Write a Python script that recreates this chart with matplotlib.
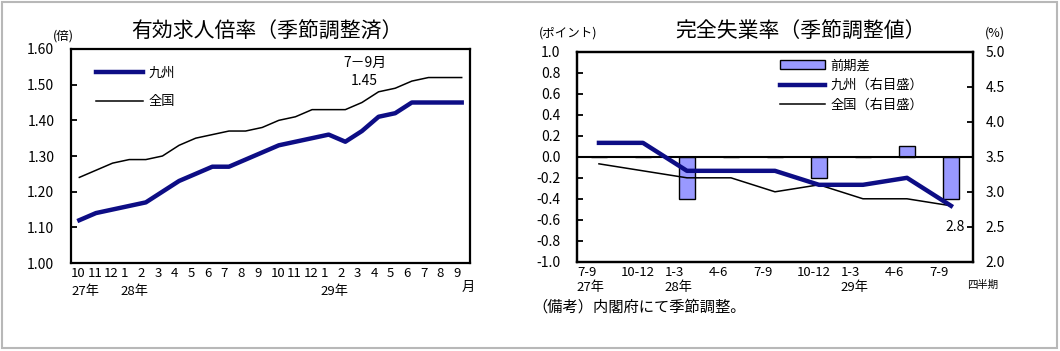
import numpy as np
import matplotlib
matplotlib.use("Agg")
import matplotlib.pyplot as plt
import matplotlib.transforms as mtransforms
from matplotlib.patches import Patch, Rectangle
from matplotlib.ticker import FormatStrFormatter, MultipleLocator

plt.rcParams['font.family'] = ['Noto Sans CJK JP', 'DejaVu Sans']

# --- left chart: 有効求人倍率 (monthly, 27年10月 - 29年9月) ---
months = [10, 11, 12, 1, 2, 3, 4, 5, 6, 7, 8, 9,
          10, 11, 12, 1, 2, 3, 4, 5, 6, 7, 8, 9]
month_years = {0: '27年', 3: '28年', 15: '29年'}
ratio_kyushu = [1.12, 1.14, 1.15, 1.16, 1.17, 1.20, 1.23, 1.25, 1.27, 1.27, 1.29, 1.31,
                1.33, 1.34, 1.35, 1.36, 1.34, 1.37, 1.41, 1.42, 1.45, 1.45, 1.45, 1.45]
ratio_japan = [1.24, 1.26, 1.28, 1.29, 1.29, 1.30, 1.33, 1.35, 1.36, 1.37, 1.37, 1.38,
               1.40, 1.41, 1.43, 1.43, 1.43, 1.45, 1.48, 1.49, 1.51, 1.52, 1.52, 1.52]

# --- right chart: 完全失業率 (quarterly, 27年7-9 - 29年7-9) ---
quarters = ['7-9', '10-12', '1-3', '4-6', '7-9', '10-12', '1-3', '4-6', '7-9']
quarter_years = {0: '27年', 2: '28年', 6: '29年'}
unemp_kyushu = [3.7, 3.7, 3.3, 3.3, 3.3, 3.1, 3.1, 3.2, 2.8]
unemp_japan = [3.4, 3.3, 3.2, 3.2, 3.0, 3.1, 2.9, 2.9, 2.8]
unemp_diff = [0.0, 0.0, -0.4, 0.0, 0.0, -0.2, 0.0, 0.1, -0.4]

NAVY = '#0d0d85'
BAR = '#9999ff'

fig = plt.figure(figsize=(10.6, 3.51), dpi=100)
fig.patches.append(Rectangle((0.002, 0.008), 0.995, 0.987, transform=fig.transFigure,
                             fill=False, edgecolor='#b8b8b8', linewidth=1.5))

# ================= left =================
ax = fig.add_axes([0.067, 0.2507, 0.3764, 0.6097])
x = np.arange(len(months))
ax.plot(x, ratio_japan, color='black', lw=1.1, label='全国')
ax.plot(x, ratio_kyushu, color=NAVY, lw=3.2, label='九州')
ax.set_xlim(-0.5, len(months) - 0.5)
ax.set_ylim(1.0, 1.6)
ax.yaxis.set_major_locator(MultipleLocator(0.1))
ax.yaxis.set_major_formatter(FormatStrFormatter('%.2f'))
ax.tick_params(axis='y', direction='in', length=4, width=1.3, pad=12, labelsize=10)
ax.set_xticks(x - 0.5, [str(m) for m in months], ha='left')
ax.tick_params(axis='x', length=0, pad=3, labelsize=9.5)
for s in ax.spines.values():
    s.set_linewidth(1.6)
blend = mtransforms.blended_transform_factory(ax.transData, ax.transAxes)
for i, yr in month_years.items():
    ax.text(i - 0.5, -0.135, yr, transform=blend, ha='left', va='center', fontsize=9.5)
ax.text(0.995, -0.112, '月', transform=ax.transAxes, ha='center', va='center', fontsize=9.5)
h = ax.get_legend_handles_labels()[0]
ax.legend([h[1], h[0]], ['九州', '全国'], loc='upper left', bbox_to_anchor=(0.062, 0.918),
          frameon=False, fontsize=9.5, handlelength=3.6, handletextpad=0.4,
          labelspacing=1.2, borderpad=0, borderaxespad=0)
ax.annotate(f'7－9月\n{ratio_kyushu[-1]:.2f}', xy=(x[-1], ratio_kyushu[-1]),
            xytext=(-70, 22), textcoords='offset points', ha='center', va='center',
            fontsize=10, linespacing=1.3)
fig.text(0.252, 0.909, '有効求人倍率（季節調整済）', ha='center', va='center', fontsize=15)
fig.text(0.0594, 0.897, '(倍)', ha='center', va='center', fontsize=9)

# ================= right =================
bx = fig.add_axes([0.5443, 0.2544, 0.3736, 0.5975])
q = np.arange(len(quarters))
bx.bar(q, unemp_diff, width=0.38, color=BAR, edgecolor='black', linewidth=1.0, zorder=2)
bx.axhline(0, color='black', lw=1.5, zorder=3)
bx.set_xlim(-0.5, len(quarters) - 0.5)
bx.set_ylim(-1.0, 1.0)
bx.yaxis.set_major_locator(MultipleLocator(0.2))
bx.yaxis.set_major_formatter(FormatStrFormatter('%.1f'))
bx.tick_params(axis='y', direction='in', length=4, width=1.3, pad=12, labelsize=10)
bx.set_xticks(q - 0.5, quarters, ha='left')
bx.tick_params(axis='x', length=0, pad=3, labelsize=9.5)

bx2 = bx.twinx()
l_jp, = bx2.plot(q, unemp_japan, color='black', lw=1.1)
l_ky, = bx2.plot(q, unemp_kyushu, color=NAVY, lw=3.2)
bx2.set_ylim(2.0, 5.0)
bx2.yaxis.set_major_locator(MultipleLocator(0.5))
bx2.yaxis.set_major_formatter(FormatStrFormatter('%.1f'))
bx2.tick_params(axis='y', direction='in', length=4, width=1.3, pad=9, labelsize=10)
for a in (bx, bx2):
    for s in a.spines.values():
        s.set_linewidth(1.6)
bx2.annotate(f'{unemp_kyushu[-1]:.1f}', xy=(q[-1], unemp_kyushu[-1]), xytext=(3, -15),
             textcoords='offset points', ha='center', va='center', fontsize=10)
bx2.legend([Patch(facecolor=BAR, edgecolor='black', linewidth=1.0), l_ky, l_jp],
           ['前期差', '九州（右目盛）', '全国（右目盛）'], loc='upper left',
           bbox_to_anchor=(0.513, 0.965), frameon=False, fontsize=9.5, handlelength=3.4,
           handleheight=0.6, handletextpad=0.4, labelspacing=0.5, borderpad=0,
           borderaxespad=0)
blend2 = mtransforms.blended_transform_factory(bx.transData, bx.transAxes)
for i, yr in quarter_years.items():
    bx.text(i - 0.5, -0.125, yr, transform=blend2, ha='left', va='center', fontsize=9.5)
bx.text(1.025, -0.111, '四半期', transform=bx.transAxes, ha='center', va='center', fontsize=7.5)
fig.text(0.755, 0.909, '完全失業率（季節調整値）', ha='center', va='center', fontsize=15)
fig.text(0.536, 0.906, '(ポイント)', ha='center', va='center', fontsize=9)
fig.text(0.939, 0.906, '(%)', ha='center', va='center', fontsize=9)
fig.text(0.502, 0.125, '（備考）内閣府にて季節調整。', ha='left', va='center', fontsize=11)

fig.savefig('out.png', dpi=100)
